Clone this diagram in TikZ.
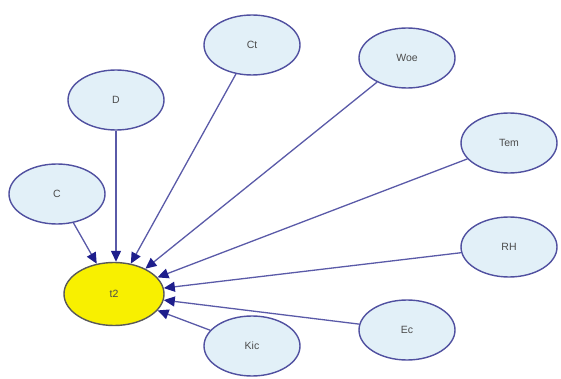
\documentclass[tikz,border=0pt]{standalone}
\usepackage{fontspec}
\setmainfont{Liberation Sans}
\usetikzlibrary{shapes.geometric,arrows.meta}
\definecolor{edgecol}{HTML}{5A5AA8}
\definecolor{tipcol}{HTML}{1E1E8C}
\definecolor{nodefill}{HTML}{E2F0F8}
\definecolor{nodeline}{HTML}{5050A0}
\definecolor{hot}{HTML}{F8F000}
\begin{document}
\begin{tikzpicture}[x=1pt,y=-1pt,
  var/.style={ellipse,draw=nodeline,line width=1.4pt,fill=nodefill,minimum width=96pt,minimum height=60pt,inner sep=0pt,font=\fontsize{10.5}{12}\selectfont,text=black!70},
  target/.style={var,fill=hot,draw=black!65,minimum width=100pt,minimum height=63pt},
  link/.style={draw=edgecol,line width=1.3pt,-{Triangle[length=11pt,width=10pt,fill=tipcol,color=tipcol]},shorten >=0pt}]
\useasboundingbox (0,0) rectangle (561,379);
\node[target] (t2) at (114,294) {t2};
\node[var] (C) at (57,194) {C};
\node[var] (D) at (116,100) {D};
\node[var] (Ct) at (252,45) {Ct};
\node[var] (Woe) at (407,58) {Woe};
\node[var] (Tem) at (509,143) {Tem};
\node[var] (RH) at (509,247) {RH};
\node[var] (Ec) at (407,330) {Ec};
\node[var] (Kic) at (252,346) {Kic};
\draw[link] (C) -- (t2);
\draw[link] (D) -- (D |- t2.north);
\draw[link] (Ct) -- (t2);
\draw[link] (Woe) -- (t2);
\draw[link] (Tem) -- (t2);
\draw[link] (RH) -- (t2);
\draw[link] (Ec) -- (t2);
\draw[link] (Kic) -- (t2);
\end{tikzpicture}
\end{document}
